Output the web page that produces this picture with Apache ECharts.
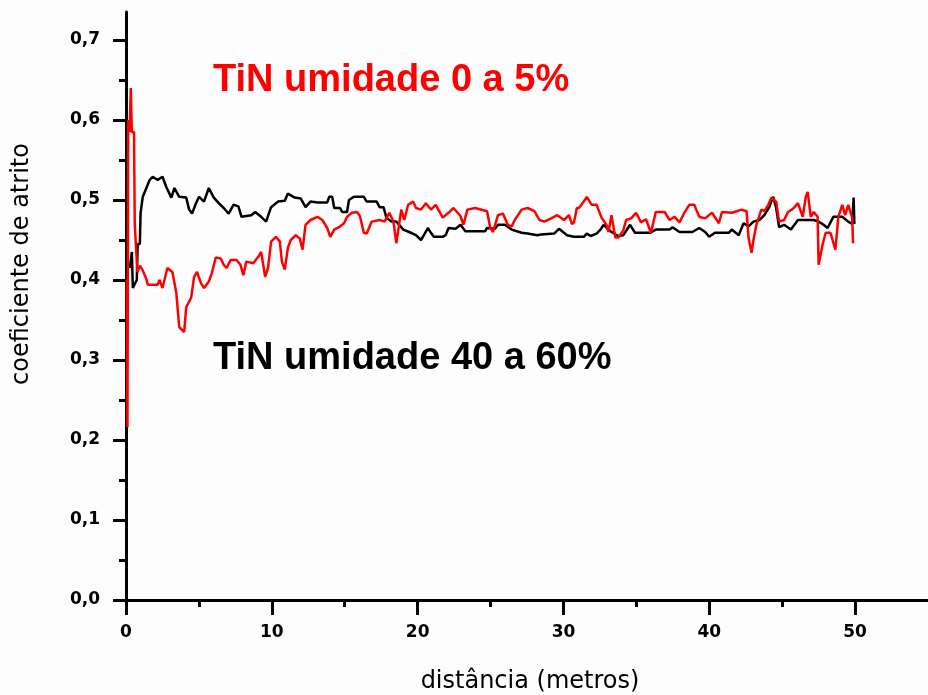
<!DOCTYPE html>
<html>
<head>
<meta charset="utf-8">
<script src="https://cdn.jsdelivr.net/npm/echarts@6/dist/echarts.min.js"></script>
<style>
  html, body { margin: 0; padding: 0; background: #fdfdfd; }
  #chart { width: 928px; height: 695px; }
</style>
</head>
<body>
<div id="chart"></div>
<script>
// Friction coefficient vs sliding distance, TiN coating at two humidity ranges

// Tick values
const xMajorTicks = [0, 10, 20, 30, 40, 50];
const xMinorTicks = [5, 15, 25, 35, 45];
const yMajorTicks = [0, 0.1, 0.2, 0.3, 0.4, 0.5, 0.6, 0.7];
const yMinorTicks = [0.05, 0.15, 0.25, 0.35, 0.45, 0.55, 0.65];

// TiN, humidity 40-60 % (black)
const blackX = [0.27, 0.40, 0.47, 0.60, 0.74, 0.80, 0.95, 1.00, 1.15, 1.42, 1.62, 1.83, 2.17, 2.50, 2.77, 2.98, 3.11, 3.32, 3.65, 4.13,
  4.33, 4.53, 4.80, 5.01, 5.35, 5.68, 6.02, 6.36, 6.70, 7.04, 7.37, 7.71, 7.92, 8.59, 8.86, 9.27, 9.61, 9.95, 10.42, 10.89,
  11.10, 11.57, 11.98, 12.31, 12.65, 13.13, 13.80, 13.94, 14.14, 14.28, 14.68, 14.82, 15.16, 15.29, 15.63, 16.31, 16.51, 17.19, 17.39, 17.66,
  17.86, 18.20, 18.54, 18.74, 19.01, 19.42, 19.89, 20.23, 20.43, 20.70, 20.91, 21.11, 21.72, 21.92, 22.12, 22.60, 22.94, 23.27, 24.63, 24.76,
  25.30, 25.51, 25.98, 26.45, 27.13, 27.54, 28.21, 28.48, 29.36, 29.70, 30.24, 30.72, 31.39, 31.60, 31.87, 32.27, 32.54, 32.75, 33.22, 33.76,
  34.10, 34.57, 34.91, 35.45, 35.93, 36.33, 37.28, 37.48, 37.96, 38.84, 39.31, 39.72, 39.99, 40.39, 41.34, 41.54, 42.02, 42.35, 42.69, 43.03,
  43.44, 43.78, 44.11, 44.38, 44.59, 44.79, 45.13, 45.60, 46.08, 46.48, 47.16, 47.50, 47.84, 48.11, 48.51, 49.12, 49.53, 49.80, 49.90, 49.95];
const blackY = [0.415, 0.435, 0.390, 0.395, 0.400, 0.445, 0.445, 0.484, 0.504, 0.516, 0.525, 0.529, 0.525, 0.529, 0.516, 0.508, 0.503, 0.515, 0.504, 0.503,
  0.488, 0.483, 0.496, 0.504, 0.498, 0.515, 0.503, 0.496, 0.490, 0.483, 0.494, 0.492, 0.479, 0.481, 0.485, 0.479, 0.473, 0.491, 0.498, 0.499,
  0.508, 0.503, 0.502, 0.491, 0.498, 0.497, 0.497, 0.504, 0.504, 0.490, 0.490, 0.485, 0.485, 0.500, 0.504, 0.504, 0.498, 0.498, 0.491, 0.491,
  0.478, 0.473, 0.473, 0.469, 0.463, 0.460, 0.456, 0.450, 0.456, 0.465, 0.459, 0.454, 0.454, 0.456, 0.465, 0.464, 0.469, 0.461, 0.461, 0.465,
  0.464, 0.469, 0.469, 0.463, 0.459, 0.458, 0.456, 0.457, 0.458, 0.464, 0.456, 0.454, 0.454, 0.458, 0.455, 0.458, 0.463, 0.469, 0.461, 0.455,
  0.456, 0.469, 0.459, 0.459, 0.459, 0.463, 0.463, 0.466, 0.460, 0.460, 0.465, 0.460, 0.454, 0.459, 0.459, 0.463, 0.456, 0.471, 0.467, 0.473,
  0.475, 0.481, 0.491, 0.504, 0.490, 0.466, 0.469, 0.463, 0.475, 0.475, 0.475, 0.473, 0.469, 0.465, 0.479, 0.479, 0.473, 0.470, 0.503, 0.470];

// TiN, humidity 0-5 % (red)
const redX = [0.05, 0.10, 0.15, 0.25, 0.33, 0.40, 0.55, 0.60, 0.70, 0.74, 0.78, 0.95, 1.15, 1.42, 1.49, 2.17, 2.30, 2.50, 2.84, 3.18,
  3.45, 3.65, 3.99, 4.13, 4.47, 4.67, 4.87, 5.14, 5.35, 5.68, 5.89, 6.16, 6.50, 6.70, 6.90, 7.17, 7.58, 7.85, 8.05, 8.25,
  8.73, 9.07, 9.27, 9.54, 9.74, 9.95, 10.28, 10.55, 10.69, 10.89, 11.10, 11.30, 11.64, 11.91, 12.11, 12.31, 12.65, 13.13, 13.46, 13.80,
  14.01, 14.28, 14.61, 14.95, 15.16, 15.49, 15.83, 16.04, 16.31, 16.51, 16.85, 17.39, 17.73, 18.06, 18.34, 18.54, 18.88, 19.08, 19.35, 19.69,
  19.89, 20.23, 20.57, 20.91, 21.24, 21.72, 22.12, 22.46, 22.94, 23.14, 23.41, 23.95, 24.76, 24.97, 25.17, 25.51, 25.85, 26.18, 26.45, 26.66,
  27.13, 27.54, 28.01, 28.35, 28.69, 29.16, 29.57, 30.04, 30.38, 30.58, 30.72, 30.92, 31.06, 31.39, 31.60, 31.94, 32.27, 32.61, 32.95, 33.09,
  33.29, 33.56, 33.76, 34.10, 34.30, 34.64, 34.98, 35.32, 35.66, 36.00, 36.33, 36.94, 37.28, 37.62, 37.96, 38.29, 38.63, 38.97, 39.31, 39.72,
  40.19, 40.66, 40.87, 41.54, 42.22, 42.56, 42.69, 42.90, 43.03, 43.23, 43.57, 43.78, 44.05, 44.25, 44.59, 44.79, 45.13, 45.40, 45.74, 46.08,
  46.41, 46.62, 46.75, 46.96, 47.16, 47.43, 47.50, 47.77, 47.98, 48.31, 48.65, 48.85, 49.12, 49.32, 49.53, 49.80, 49.86];
const redY = [0.400, 0.216, 0.600, 0.585, 0.640, 0.585, 0.585, 0.470, 0.470, 0.470, 0.410, 0.418, 0.412, 0.400, 0.394, 0.394, 0.400, 0.390, 0.415, 0.410,
  0.384, 0.341, 0.335, 0.366, 0.378, 0.404, 0.410, 0.396, 0.390, 0.398, 0.409, 0.428, 0.427, 0.419, 0.415, 0.425, 0.425, 0.419, 0.406, 0.423,
  0.421, 0.429, 0.435, 0.404, 0.415, 0.448, 0.454, 0.448, 0.423, 0.413, 0.440, 0.450, 0.456, 0.452, 0.438, 0.469, 0.475, 0.479, 0.475, 0.465,
  0.454, 0.463, 0.466, 0.471, 0.479, 0.484, 0.485, 0.480, 0.459, 0.458, 0.473, 0.475, 0.473, 0.484, 0.473, 0.446, 0.488, 0.475, 0.494, 0.498,
  0.490, 0.488, 0.496, 0.488, 0.494, 0.478, 0.484, 0.490, 0.480, 0.469, 0.488, 0.490, 0.486, 0.466, 0.460, 0.481, 0.483, 0.469, 0.467, 0.475,
  0.488, 0.490, 0.486, 0.475, 0.473, 0.477, 0.481, 0.475, 0.481, 0.470, 0.472, 0.490, 0.490, 0.498, 0.504, 0.494, 0.494, 0.478, 0.469, 0.460,
  0.481, 0.453, 0.453, 0.462, 0.475, 0.477, 0.484, 0.472, 0.476, 0.459, 0.485, 0.485, 0.475, 0.479, 0.472, 0.484, 0.494, 0.494, 0.479, 0.477,
  0.484, 0.471, 0.485, 0.484, 0.488, 0.486, 0.453, 0.434, 0.450, 0.469, 0.488, 0.486, 0.494, 0.503, 0.498, 0.473, 0.475, 0.485, 0.489, 0.496,
  0.479, 0.504, 0.510, 0.479, 0.485, 0.479, 0.419, 0.444, 0.459, 0.459, 0.438, 0.479, 0.494, 0.481, 0.494, 0.478, 0.446];

const blackData = blackX.map((x, i) => [x, blackY[i]]);
const redData = redX.map((x, i) => [x, redY[i]]);

const chart = echarts.init(document.getElementById('chart'), null, { renderer: 'canvas' });

const axisColor = '#000';
const tickFont = { color: '#000', fontFamily: 'DejaVu Sans', fontWeight: 'bold', fontSize: 17 };
const decimalComma = v => v.toFixed(1).replace('.', ',');

chart.setOption({
  animation: false,
  backgroundColor: '#fdfdfd',
  grid: { left: 126, top: 12, right: -11, bottom: 95, containLabel: false },
  xAxis: [
    {
      type: 'value', min: 0, max: 55,
      position: 'bottom',
      splitLine: { show: false },
      axisLine: { show: true, onZero: false, lineStyle: { color: axisColor, width: 3 } },
      axisTick: { show: true, inside: false, length: 15, customValues: xMajorTicks, lineStyle: { color: axisColor, width: 3 } },
      axisLabel: { show: true, margin: 24, customValues: xMajorTicks, formatter: v => String(v), ...tickFont }
    },
    {
      type: 'value', min: 0, max: 55,
      position: 'bottom',
      splitLine: { show: false },
      axisLine: { show: false },
      axisTick: { show: true, inside: false, length: 7, customValues: xMinorTicks, lineStyle: { color: axisColor, width: 3 } },
      axisLabel: { show: false }
    }
  ],
  yAxis: [
    {
      type: 'value', min: 0, max: 0.735,
      position: 'left',
      splitLine: { show: false },
      axisLine: { show: true, onZero: false, lineStyle: { color: axisColor, width: 3 } },
      axisTick: { show: true, inside: false, length: 13, customValues: yMajorTicks, lineStyle: { color: axisColor, width: 3 } },
      axisLabel: { show: true, margin: 26, customValues: yMajorTicks, formatter: decimalComma, ...tickFont }
    },
    {
      type: 'value', min: 0, max: 0.735,
      position: 'left',
      splitLine: { show: false },
      axisLine: { show: false },
      axisTick: { show: true, inside: false, length: 7, customValues: yMinorTicks, lineStyle: { color: axisColor, width: 3 } },
      axisLabel: { show: false }
    }
  ],
  series: [
    {
      name: 'TiN umidade 40 a 60%',
      type: 'line', xAxisIndex: 0, yAxisIndex: 0,
      data: blackData, showSymbol: false, symbol: 'none',
      lineStyle: { color: '#000', width: 2.5 },
      z: 2
    },
    {
      name: 'TiN umidade 0 a 5%',
      type: 'line', xAxisIndex: 0, yAxisIndex: 0,
      data: redData, showSymbol: false, symbol: 'none',
      lineStyle: { color: '#ff0000', width: 2.5 },
      z: 3
    }
  ],
  graphic: [
    {
      type: 'text', left: 213, top: 62,
      style: { text: 'TiN umidade 0 a 5%', fill: '#ff0000', font: 'bold 38px "Liberation Sans"' },
      z: 10
    },
    {
      type: 'text', left: 213, top: 340,
      style: { text: 'TiN umidade 40 a 60%', fill: '#000', font: 'bold 38px "Liberation Sans"' },
      z: 10
    },
    {
      type: 'text', x: 530, y: 682,
      style: { text: 'distância (metros)', fill: '#000', font: '24px "DejaVu Sans"', textAlign: 'center', textVerticalAlign: 'middle' },
      z: 10
    },
    {
      type: 'text', x: 22, y: 264, rotation: Math.PI / 2,
      style: { text: 'coeficiente de atrito', fill: '#000', font: '24px "DejaVu Sans"', textAlign: 'center', textVerticalAlign: 'middle' },
      z: 10
    }
  ]
});
</script>
</body>
</html>
